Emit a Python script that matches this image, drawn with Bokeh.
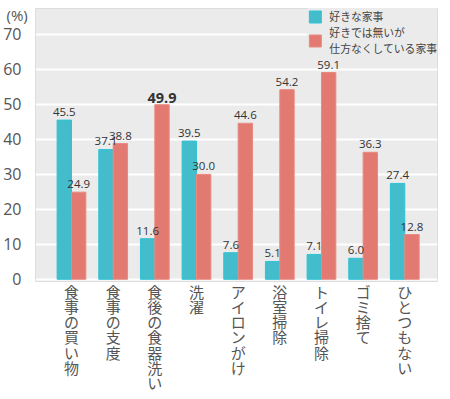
from bokeh.plotting import figure
from bokeh.models import ColumnDataSource, Legend, LegendItem, FixedTicker, Range1d
from bokeh.embed import file_html
from bokeh.resources import INLINE
from bokeh.core.properties import value

categories = ["食事の買い物", "食事の支度", "食後の食器洗い", "洗濯", "アイロンがけ",
              "浴室掃除", "トイレ掃除", "ゴミ捨て", "ひとつもない"]
like = [45.5, 37.1, 11.6, 39.5, 7.6, 5.1, 7.1, 6.0, 27.4]
dislike = [24.9, 38.8, 49.9, 30.0, 44.6, 54.2, 59.1, 36.3, 12.8]
series_names = ["好きな家事", "好きでは無いが\n仕方なくしている家事"]
highlight = "食後の食器洗い"
y_ticks = [0, 10, 20, 30, 40, 50, 60, 70]
unit_label = "(%)"

TEAL = "#43bccb"
TEAL_LINE = "#2ec3d6"
RED = "#e27a72"
RED_LINE = "#e98a81"
BG = "#ebebeb"
JP = "Noto Sans CJK JP"
NUM = "Open Sans"

x = list(range(1, len(categories) + 1))
bw = 0.345
x_like = [i - bw / 2 for i in x]
x_dis = [i + bw / 2 for i in x]

p = figure(frame_width=402, frame_height=273,
           x_range=Range1d(0.136, 9.785), y_range=Range1d(-0.63, 77.4),
           output_backend="svg", toolbar_location=None,
           min_border_left=26, min_border_right=6, min_border_top=8, min_border_bottom=4,
           background_fill_color=BG, border_fill_color="white",
           outline_line_color="#dcdcdc", outline_line_width=1)

# unit label drawn as the title, pulled to the left of the frame
p.title.text = unit_label
p.title.align = "left"
p.title.offset = -29
p.title.vertical_align = "bottom"
p.title.text_font = NUM
p.title.text_font_size = "15px"
p.title.text_font_style = "normal"
p.title.text_color = "#555555"
p.title.standoff = -32

src_like = ColumnDataSource(dict(x=x_like, top=like, lab=[f"{v:.1f}" for v in like]))
is_hl = [c == highlight for c in categories]
src_dis = ColumnDataSource(dict(
    x=x_dis, top=dislike, lab=[f"{v:.1f}" for v in dislike],
    fs=["14.5px" if h else "11.5px" for h in is_hl],
    st=["bold" if h else "normal" for h in is_hl],
    off=[-2 if h else -4 for h in is_hl]))

r1 = p.vbar(x="x", top="top", bottom=0, width=bw, source=src_like,
            fill_color=TEAL, line_color=TEAL_LINE, line_width=1)
r2 = p.vbar(x="x", top="top", bottom=0, width=bw, source=src_dis,
            fill_color=RED, line_color=RED_LINE, line_width=1)

p.text(x="x", y="top", text="lab", source=src_like, text_align="center",
       text_baseline="bottom", y_offset=-4, text_font=value(NUM),
       text_font_size="11.5px", text_color="#333333")
p.text(x="x", y="top", text="lab", source=src_dis, text_align="center",
       text_baseline="bottom", y_offset="off", text_font=value(NUM),
       text_font_size="fs", text_font_style="st", text_color="#333333")

p.xgrid.visible = False
p.ygrid.ticker = FixedTicker(ticks=y_ticks)
p.ygrid.grid_line_color = "white"
p.ygrid.grid_line_width = 2

p.yaxis.ticker = FixedTicker(ticks=y_ticks)
p.yaxis.axis_line_color = None
p.yaxis.major_tick_line_color = None
p.yaxis.minor_tick_line_color = None
p.yaxis.major_label_standoff = 8
p.yaxis.major_label_text_font = NUM
p.yaxis.major_label_text_font_size = "16px"
p.yaxis.major_label_text_color = "#555555"

p.xaxis.ticker = FixedTicker(ticks=x)
p.xaxis.major_label_overrides = {i: "\n".join(c) for i, c in zip(x, categories)}
p.xaxis.axis_line_color = None
p.xaxis.major_tick_line_color = None
p.xaxis.minor_tick_line_color = None
p.xaxis.major_label_standoff = -7
p.xaxis.major_label_text_font = JP
p.xaxis.major_label_text_font_size = "15px"
p.xaxis.major_label_text_color = "#555555"
p.xaxis.major_label_text_line_height = 0.73

legend = Legend(items=[LegendItem(label=series_names[0], renderers=[r1]),
                       LegendItem(label=series_names[1], renderers=[r2])],
                location="top_right", orientation="vertical",
                background_fill_color=BG, background_fill_alpha=1.0,
                border_line_color=None, padding=2, margin=0, spacing=0,
                glyph_width=15, glyph_height=15, label_standoff=7,
                label_text_font=JP, label_text_font_size="10.8px",
                label_text_color="#444444", label_text_line_height=1.25,
                label_height=15)
p.add_layout(legend)

open("out.html", "w").write(file_html(p, INLINE))
